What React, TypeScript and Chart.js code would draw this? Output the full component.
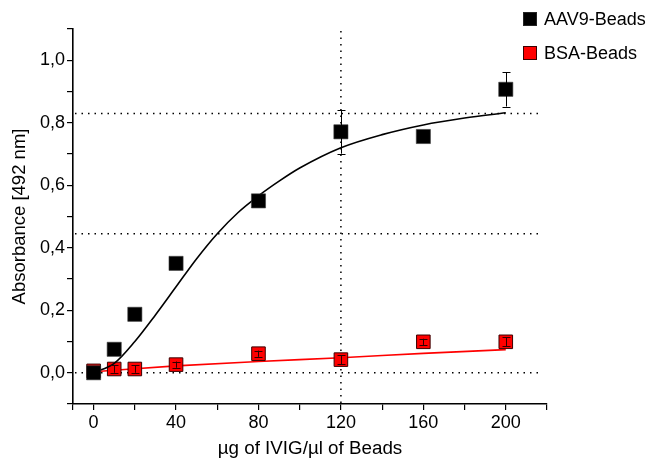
import React, { useEffect, useRef } from "react";
import { Chart, registerables } from "chart.js";

Chart.register(...registerables);

// ---- data ----
const concentrations = [0, 10, 20, 40, 80, 120, 160, 200];
const aav9Values = [0.0, 0.075, 0.187, 0.35, 0.55, 0.771, 0.756, 0.907];
const aav9Errors = [0, 0, 0, 0, 0, 0.07, 0, 0.055];
const bsaValues = [0.006, 0.012, 0.012, 0.026, 0.061, 0.042, 0.099, 0.099];
const bsaErrors = [0, 0.012, 0.012, 0.01, 0.01, 0.014, 0.01, 0.014];

const aav9FitX = [0, 10, 20, 30, 40, 50, 60, 70, 80, 90, 100, 120, 140, 160, 180, 200];
const aav9FitY = [0.0, 0.03, 0.1, 0.185, 0.275, 0.365, 0.445, 0.512, 0.566, 0.613, 0.655, 0.72, 0.762, 0.793, 0.815, 0.832];
const bsaFitX = [0, 40, 80, 120, 160, 200];
const bsaFitY = [0.003, 0.022, 0.036, 0.048, 0.062, 0.074];

const xTickValues = [-10, 0, 20, 40, 60, 80, 100, 120, 140, 160, 180, 200, 220];
const xLabelValues = [0, 40, 80, 120, 160, 200];
const yTickValues = [-0.1, 0, 0.1, 0.2, 0.3, 0.4, 0.5, 0.6, 0.7, 0.8, 0.9, 1.0, 1.1];
const yLabelValues = [0, 0.2, 0.4, 0.6, 0.8, 1.0];
const refLinesY = [0, 0.445, 0.83];
const refLinesX = [120];
const refLineXEnd = 218;

const seriesNames = ["AAV9-Beads", "BSA-Beads"];
const xTitle = "\u00b5g of IVIG/\u00b5l of Beads";
const yTitle = "Absorbance [492 nm]";

const FONT = "Arial, 'Liberation Sans', sans-serif";

const refLinePlugin = {
  id: "refLines",
  beforeDatasetsDraw(chart: any) {
    const { ctx, scales } = chart;
    const xs = scales.x;
    const ys = scales.y;
    ctx.save();
    ctx.strokeStyle = "#000";
    ctx.lineWidth = 1.5;
    ctx.setLineDash([1.5, 5]);
    refLinesY.forEach((v) => {
      const py = ys.getPixelForValue(v);
      ctx.beginPath();
      ctx.moveTo(xs.left + 2, py);
      ctx.lineTo(xs.getPixelForValue(refLineXEnd), py);
      ctx.stroke();
    });
    refLinesX.forEach((v) => {
      const px = xs.getPixelForValue(v);
      ctx.beginPath();
      ctx.moveTo(px, ys.top + 2);
      ctx.lineTo(px, ys.bottom);
      ctx.stroke();
    });
    ctx.restore();
  },
};

const errorBarPlugin = {
  id: "errorBars",
  afterDatasetsDraw(chart: any) {
    const { ctx, scales } = chart;
    const xs = scales.x;
    const ys = scales.y;
    ctx.save();
    chart.data.datasets.forEach((ds: any) => {
      if (!ds.errors) return;
      ctx.strokeStyle = ds.errorColor;
      ctx.lineWidth = 1;
      ds.data.forEach((p: any, i: number) => {
        const e = ds.errors[i];
        if (!e) return;
        const px = Math.round(xs.getPixelForValue(p.x)) + 0.5;
        const top = ys.getPixelForValue(p.y + e);
        const bot = ys.getPixelForValue(p.y - e);
        ctx.beginPath();
        ctx.moveTo(px, top);
        ctx.lineTo(px, bot);
        ctx.moveTo(px - 4, Math.round(top) + 0.5);
        ctx.lineTo(px + 4, Math.round(top) + 0.5);
        ctx.moveTo(px - 4, Math.round(bot) + 0.5);
        ctx.lineTo(px + 4, Math.round(bot) + 0.5);
        ctx.stroke();
      });
    });
    ctx.restore();
  },
};

const legendPlugin = {
  id: "customLegend",
  afterDraw(chart: any) {
    const { ctx } = chart;
    const items = chart.data.datasets.filter((d: any) => d.legend);
    ctx.save();
    ctx.font = `18px ${FONT}`;
    ctx.textBaseline = "middle";
    ctx.textAlign = "left";
    items.forEach((d: any, i: number) => {
      const cy = 19 + i * 34;
      ctx.fillStyle = d.backgroundColor;
      ctx.fillRect(523, cy - 7, 14, 14);
      ctx.strokeStyle = d.borderColor;
      ctx.lineWidth = 1;
      ctx.strokeRect(523.5, cy - 6.5, 13, 13);
      ctx.fillStyle = "#000";
      ctx.fillText(d.label, 544, cy + 1);
    });
    ctx.restore();
  },
};

export default function App() {
  const ref = useRef<HTMLCanvasElement | null>(null);

  useEffect(() => {
    document.body.style.margin = "0";
    const canvas = ref.current;
    if (!canvas) return;
    const chart = new Chart(canvas, {
      type: "scatter",
      data: {
        datasets: [
          {
            label: seriesNames[0],
            legend: true,
            data: concentrations.map((x, i) => ({ x, y: aav9Values[i] })),
            errors: aav9Errors,
            errorColor: "#000",
            pointStyle: "rect",
            pointRadius: 10,
            backgroundColor: "#000000",
            borderColor: "rgba(60,60,60,0.6)",
            borderWidth: 1,
            showLine: false,
            order: 0,
          } as any,
          {
            label: "AAV9 fit",
            data: aav9FitX.map((x, i) => ({ x, y: aav9FitY[i] })),
            showLine: true,
            borderColor: "#000",
            borderWidth: 1.6,
            pointRadius: 0,
            tension: 0.4,
            cubicInterpolationMode: "monotone",
            order: 1,
          } as any,
          {
            label: seriesNames[1],
            legend: true,
            data: concentrations.map((x, i) => ({ x, y: bsaValues[i] })),
            errors: bsaErrors,
            errorColor: "#300000",
            pointStyle: "rect",
            pointRadius: 9.6,
            backgroundColor: "#ff0000",
            borderColor: "#3a0000",
            borderWidth: 1,
            showLine: false,
            order: 2,
          } as any,
          {
            label: "BSA fit",
            data: bsaFitX.map((x, i) => ({ x, y: bsaFitY[i] })),
            showLine: true,
            borderColor: "#ff0000",
            borderWidth: 1.6,
            pointRadius: 0,
            tension: 0.4,
            cubicInterpolationMode: "monotone",
            order: 3,
          } as any,
        ],
      },
      options: {
        responsive: false,
        devicePixelRatio: 1,
        animation: false,
        events: [],
        layout: { padding: { top: 29, right: 104, left: 0, bottom: 0 } },
        plugins: {
          legend: { display: false },
          tooltip: { enabled: false },
        },
        scales: {
          x: {
            type: "linear",
            min: -10,
            max: 220,
            afterBuildTicks: (scale: any) => {
              scale.ticks = xTickValues.map((v) => ({ value: v }));
            },
            afterFit: (scale: any) => {
              scale.height = 58;
            },
            grid: {
              display: true,
              drawOnChartArea: false,
              drawTicks: true,
              tickLength: 6,
              color: "#000",
              lineWidth: 1.2,
            },
            border: { display: true, color: "#000", width: 1.6 },
            ticks: {
              color: "#000",
              font: { family: FONT, size: 18 },
              padding: 2,
              maxRotation: 0,
              autoSkip: false,
              callback: (v: any) => (xLabelValues.includes(Number(v)) ? String(v) : ""),
            },
            title: {
              display: true,
              text: xTitle,
              color: "#000",
              font: { family: FONT, size: 18.8 },
              padding: { top: 0, bottom: 2 },
            },
          },
          y: {
            type: "linear",
            min: -0.1,
            max: 1.1,
            afterBuildTicks: (scale: any) => {
              scale.ticks = yTickValues.map((v) => ({ value: v }));
            },
            afterFit: (scale: any) => {
              scale.width = 73;
            },
            grid: {
              display: true,
              drawOnChartArea: false,
              drawTicks: true,
              tickLength: 6,
              color: "#000",
              lineWidth: 1.2,
            },
            border: { display: true, color: "#000", width: 1.6 },
            ticks: {
              color: "#000",
              font: { family: FONT, size: 18 },
              padding: 2,
              autoSkip: false,
              callback: (v: any) => {
                const n = Number(v);
                const ok = yLabelValues.some((l) => Math.abs(l - n) < 1e-6);
                return ok ? n.toFixed(1).replace(".", ",") : "";
              },
            },
            title: {
              display: true,
              text: yTitle,
              color: "#000",
              font: { family: FONT, size: 18.5 },
              padding: { top: 9, bottom: 0 },
            },
          },
        },
      } as any,
      plugins: [refLinePlugin, errorBarPlugin, legendPlugin],
    });
    return () => chart.destroy();
  }, []);

  return (
    <div style={{ position: "absolute", left: 0, top: 0, width: 651, height: 462 }}>
      <canvas ref={ref} width={651} height={462} style={{ width: 651, height: 462 }} />
    </div>
  );
}
